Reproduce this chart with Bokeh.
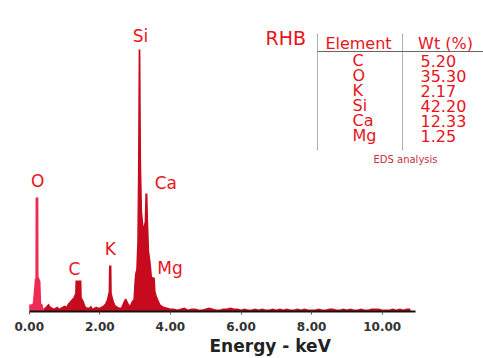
from bokeh.plotting import figure
from bokeh.models import Range1d, FixedTicker, NumeralTickFormatter, Title
from bokeh.core.properties import value
from bokeh.embed import file_html
from bokeh.resources import INLINE

# ---------------- data ----------------
energy = [0.00, 0.05, 0.10, 0.13, 0.16, 0.175, 0.18, 0.26, 0.265, 0.32, 0.34, 0.38, 0.40,
          0.45, 0.50, 0.55, 0.60, 0.65, 0.70, 0.75, 0.80, 0.85, 0.90, 0.95, 1.00, 1.05,
          1.10, 1.15, 1.20, 1.25, 1.30, 1.31, 1.48, 1.49, 1.55, 1.60, 1.65, 1.70, 1.75,
          1.80, 1.85, 1.90, 1.95, 2.00, 2.05, 2.10, 2.15, 2.20, 2.25, 2.26, 2.33, 2.34,
          2.40, 2.45, 2.50, 2.55, 2.60, 2.65, 2.70, 2.75, 2.80, 2.85, 2.90, 2.95, 2.98,
          3.00, 3.03, 3.06, 3.08, 3.10, 3.15, 3.17, 3.20, 3.24, 3.27, 3.29, 3.35, 3.37,
          3.40, 3.44, 3.48, 3.51, 3.56, 3.58, 3.62, 3.68, 3.72, 3.80, 3.90, 4.00,
          4.1, 4.2, 4.3, 4.4, 4.5, 4.6, 4.7, 4.8, 4.9, 5.0, 5.1, 5.2, 5.3, 5.4, 5.5, 5.6,
          5.7, 5.8, 5.9, 6.0, 6.1, 6.2, 6.3, 6.4, 6.5, 6.6, 6.7, 6.8, 6.9, 7.0, 7.1, 7.2,
          7.3, 7.4, 7.5, 7.6, 7.7, 7.8, 7.9, 8.0, 8.1, 8.2, 8.3, 8.4, 8.5, 8.6, 8.7, 8.8,
          8.9, 9.0, 9.1, 9.2, 9.3, 9.4, 9.5, 9.6, 9.7, 9.8, 9.9, 10.0, 10.1, 10.2, 10.3,
          10.4, 10.5, 10.6, 10.7, 10.8, 10.9]
counts = [70, 70, 80, 200, 330, 330, 1140, 1140, 350, 300, 80, 70, 30,
          40, 60, 80, 50, 40, 30, 40, 50, 30, 40, 50, 60, 50,
          80, 100, 120, 140, 180, 310, 310, 140, 100, 50, 40, 40, 60,
          30, 40, 50, 40, 40, 50, 60, 80, 120, 200, 460, 460, 180,
          100, 60, 50, 40, 40, 80, 120, 130, 90, 60, 100, 120, 300,
          380, 420, 700, 1400, 2620, 2620, 1500, 1000, 850, 900, 1180, 1180, 900,
          600, 500, 350, 340, 340, 200, 150, 100, 70, 50, 40, 30,
          30, 20, 30, 40, 20, 30, 30, 20, 20, 30, 40, 30, 20, 20, 30, 30,
          40, 30, 30, 20, 30, 20, 20, 30, 20, 30, 20, 20, 30, 20, 30, 20,
          30, 20, 20, 30, 20, 30, 20, 20, 20, 30, 20, 20, 30, 30, 20, 20,
          30, 20, 30, 20, 20, 30, 20, 20, 30, 30, 30, 20, 20, 20, 30,
          20, 30, 20, 30, 30]

peak_names = ["O", "C", "K", "Si", "Ca", "Mg"]
peak_label_x = [0.24, 1.28, 2.30, 3.15, 3.87, 3.99]
peak_label_y = [1310, 430, 630, 2760, 1290, 440]

elements = ["C", "O", "K", "Si", "Ca", "Mg"]
wt_percent = ["5.20", "35.30", "2.17", "42.20", "12.33", "1.25"]

tick_values = [0, 2, 4, 6, 8, 10]

# ---------------- layout helpers (pixel -> data) ----------------
W, H = 483, 358
FRAME_H = 311
PX_PER_KEV = 35.3
X_ZERO_PX = 28.7
CNT_PER_PX = 10.0
X0 = -X_ZERO_PX / PX_PER_KEV
X1 = (W - X_ZERO_PX) / PX_PER_KEV


def dx(px):
    return (px - X_ZERO_PX) / PX_PER_KEV


def dy(py):
    return (FRAME_H - py) * CNT_PER_PX


RED = "#e8141c"
SPEC = "#c80a1e"
O_COL = "#ee2a55"
FONT = value("DejaVu Sans")

p = figure(width=W, height=H, output_backend="svg", toolbar_location=None,
           x_range=Range1d(X0, X1), y_range=Range1d(0, FRAME_H * CNT_PER_PX),
           min_border_left=0, min_border_right=0, min_border_top=0,
           min_border_bottom=H - FRAME_H)
p.outline_line_color = None
p.xgrid.visible = False
p.ygrid.visible = False
p.yaxis.visible = False
p.background_fill_color = "white"
p.border_fill_color = "white"

# spectrum
k = energy.index(0.40) + 1
p.varea(x=energy[k - 1:], y1=0, y2=counts[k - 1:], fill_color=SPEC)
p.varea(x=energy[:k], y1=0, y2=counts[:k], fill_color=O_COL)

# x axis
ax = p.xaxis[0]
ax.bounds = (0, 10.93)
ax.ticker = FixedTicker(ticks=tick_values)
ax.formatter = NumeralTickFormatter(format="0.00")
ax.axis_line_color = "#111111"
ax.axis_line_width = 2
ax.major_tick_line_color = "#555555"
ax.major_tick_in = 0
ax.major_tick_out = 3
ax.minor_tick_line_color = None
ax.major_label_standoff = 7
ax.major_label_text_font = "DejaVu Sans"
ax.major_label_text_font_style = "bold"
ax.major_label_text_font_size = "12px"
ax.major_label_text_color = "#333333"

p.add_layout(Title(text="Energy - keV", align="left", offset=209, standoff=1,
                   text_font="DejaVu Sans", text_font_style="bold",
                   text_font_size="17px", text_color="#222222"), "below")

# peak labels
p.text(x=peak_label_x, y=peak_label_y, text=peak_names, text_font=FONT,
       text_font_size=value("17px"), text_color=RED, text_align="center",
       text_baseline="middle")

# table
p.text(x=[dx(265)], y=[dy(37)], text=["RHB"], text_font=FONT, text_font_size=value("19px"),
       text_color=RED, text_align="left", text_baseline="middle")
p.segment(x0=[dx(317), dx(402)], y0=[dy(33), dy(33)], x1=[dx(317), dx(402)],
          y1=[dy(150), dy(150)], line_color="#b0b0b0", line_width=1)
p.segment(x0=[dx(317)], y0=[dy(51)], x1=[dx(483)], y1=[dy(51)], line_color="#666666",
          line_width=1.2)
p.text(x=[dx(358), dx(445)], y=[dy(43), dy(43)], text=["Element", "Wt (%)"], text_font=FONT,
       text_font_size=value("16px"), text_color=RED, text_align="center",
       text_baseline="middle")
row_y = [dy(60 + 15 * i) for i in range(len(elements))]
p.text(x=[dx(352)] * len(elements), y=row_y, text=elements, text_font=FONT,
       text_font_size=value("16px"), text_color=RED, text_align="left",
       text_baseline="middle")
p.text(x=[dx(420)] * len(wt_percent), y=row_y, text=wt_percent, text_font=FONT,
       text_font_size=value("16px"), text_color=RED, text_align="left",
       text_baseline="middle")
p.text(x=[dx(405)], y=[dy(159)], text=["EDS analysis"], text_font=FONT,
       text_font_size=value("10px"), text_color="#c8303c", text_align="center",
       text_baseline="middle")

open("out.html", "w").write(file_html(p, INLINE))
